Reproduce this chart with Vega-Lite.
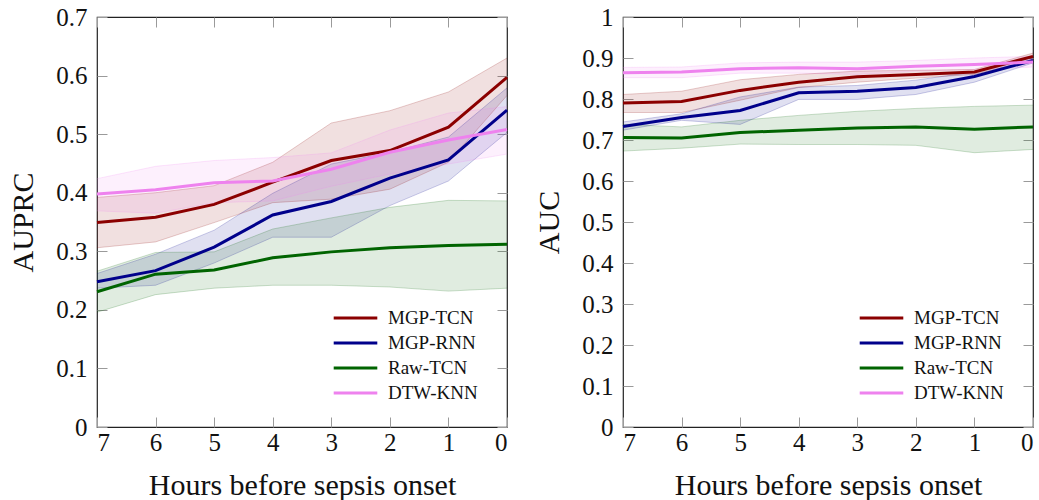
{
  "$schema": "https://vega.github.io/schema/vega-lite/v6.json",
  "padding": {"left": 8, "top": 4, "right": 0, "bottom": 0},
  "spacing": 20,
  "config": {
    "font": "Liberation Serif",
    "view": {"stroke": "#222222", "strokeWidth": 1.2},
    "axis": {
      "grid": false,
      "domain": false,
      "tickColor": "#9a9a9a",
      "tickWidth": 1,
      "tickSize": -10,
      "labelFont": "Liberation Serif",
      "labelFontSize": 25,
      "labelColor": "#111111",
      "titleFont": "Liberation Serif",
      "titleFontSize": 30,
      "titleFontWeight": "normal",
      "titleColor": "#111111"
    },
    "legend": {
      "labelFont": "Liberation Serif",
      "labelFontSize": 19,
      "labelColor": "#111111"
    }
  },
  "resolve": {"legend": {"color": "independent"}, "scale": {"color": "independent"}},
  "datasets": {
    "auprc": [
      {"h": 7, "model": "MGP-TCN", "mean": 0.349, "lo": 0.306, "hi": 0.392},
      {"h": 6, "model": "MGP-TCN", "mean": 0.358, "lo": 0.316, "hi": 0.400},
      {"h": 5, "model": "MGP-TCN", "mean": 0.380, "lo": 0.349, "hi": 0.412},
      {"h": 4, "model": "MGP-TCN", "mean": 0.418, "lo": 0.383, "hi": 0.452},
      {"h": 3, "model": "MGP-TCN", "mean": 0.455, "lo": 0.389, "hi": 0.519},
      {"h": 2, "model": "MGP-TCN", "mean": 0.472, "lo": 0.406, "hi": 0.540},
      {"h": 1, "model": "MGP-TCN", "mean": 0.512, "lo": 0.452, "hi": 0.572},
      {"h": 0, "model": "MGP-TCN", "mean": 0.597, "lo": 0.566, "hi": 0.630},
      {"h": 7, "model": "MGP-RNN", "mean": 0.248, "lo": 0.237, "hi": 0.262},
      {"h": 6, "model": "MGP-RNN", "mean": 0.267, "lo": 0.242, "hi": 0.295},
      {"h": 5, "model": "MGP-RNN", "mean": 0.307, "lo": 0.280, "hi": 0.336},
      {"h": 4, "model": "MGP-RNN", "mean": 0.362, "lo": 0.324, "hi": 0.399},
      {"h": 3, "model": "MGP-RNN", "mean": 0.385, "lo": 0.324, "hi": 0.449},
      {"h": 2, "model": "MGP-RNN", "mean": 0.425, "lo": 0.378, "hi": 0.469},
      {"h": 1, "model": "MGP-RNN", "mean": 0.456, "lo": 0.420, "hi": 0.495},
      {"h": 0, "model": "MGP-RNN", "mean": 0.541, "lo": 0.503, "hi": 0.579},
      {"h": 7, "model": "Raw-TCN", "mean": 0.231, "lo": 0.196, "hi": 0.266},
      {"h": 6, "model": "Raw-TCN", "mean": 0.261, "lo": 0.226, "hi": 0.298},
      {"h": 5, "model": "Raw-TCN", "mean": 0.268, "lo": 0.237, "hi": 0.299},
      {"h": 4, "model": "Raw-TCN", "mean": 0.289, "lo": 0.242, "hi": 0.338},
      {"h": 3, "model": "Raw-TCN", "mean": 0.299, "lo": 0.242, "hi": 0.357},
      {"h": 2, "model": "Raw-TCN", "mean": 0.306, "lo": 0.239, "hi": 0.375},
      {"h": 1, "model": "Raw-TCN", "mean": 0.310, "lo": 0.232, "hi": 0.387},
      {"h": 0, "model": "Raw-TCN", "mean": 0.312, "lo": 0.237, "hi": 0.386},
      {"h": 7, "model": "DTW-KNN", "mean": 0.398, "lo": 0.369, "hi": 0.424},
      {"h": 6, "model": "DTW-KNN", "mean": 0.405, "lo": 0.365, "hi": 0.445},
      {"h": 5, "model": "DTW-KNN", "mean": 0.417, "lo": 0.383, "hi": 0.455},
      {"h": 4, "model": "DTW-KNN", "mean": 0.420, "lo": 0.386, "hi": 0.460},
      {"h": 3, "model": "DTW-KNN", "mean": 0.440, "lo": 0.411, "hi": 0.468},
      {"h": 2, "model": "DTW-KNN", "mean": 0.469, "lo": 0.432, "hi": 0.507},
      {"h": 1, "model": "DTW-KNN", "mean": 0.490, "lo": 0.449, "hi": 0.536},
      {"h": 0, "model": "DTW-KNN", "mean": 0.508, "lo": 0.466, "hi": 0.547}
    ],
    "auc": [
      {"h": 7, "model": "MGP-TCN", "mean": 0.790, "lo": 0.767, "hi": 0.811},
      {"h": 6, "model": "MGP-TCN", "mean": 0.794, "lo": 0.767, "hi": 0.819},
      {"h": 5, "model": "MGP-TCN", "mean": 0.821, "lo": 0.797, "hi": 0.847},
      {"h": 4, "model": "MGP-TCN", "mean": 0.841, "lo": 0.828, "hi": 0.860},
      {"h": 3, "model": "MGP-TCN", "mean": 0.854, "lo": 0.841, "hi": 0.868},
      {"h": 2, "model": "MGP-TCN", "mean": 0.860, "lo": 0.851, "hi": 0.870},
      {"h": 1, "model": "MGP-TCN", "mean": 0.866, "lo": 0.860, "hi": 0.872},
      {"h": 0, "model": "MGP-TCN", "mean": 0.904, "lo": 0.894, "hi": 0.912},
      {"h": 7, "model": "MGP-RNN", "mean": 0.733, "lo": 0.724, "hi": 0.744},
      {"h": 6, "model": "MGP-RNN", "mean": 0.755, "lo": 0.748, "hi": 0.764},
      {"h": 5, "model": "MGP-RNN", "mean": 0.772, "lo": 0.738, "hi": 0.805},
      {"h": 4, "model": "MGP-RNN", "mean": 0.815, "lo": 0.799, "hi": 0.829},
      {"h": 3, "model": "MGP-RNN", "mean": 0.819, "lo": 0.799, "hi": 0.833},
      {"h": 2, "model": "MGP-RNN", "mean": 0.828, "lo": 0.811, "hi": 0.846},
      {"h": 1, "model": "MGP-RNN", "mean": 0.855, "lo": 0.841, "hi": 0.866},
      {"h": 0, "model": "MGP-RNN", "mean": 0.894, "lo": 0.888, "hi": 0.901},
      {"h": 7, "model": "Raw-TCN", "mean": 0.706, "lo": 0.673, "hi": 0.738},
      {"h": 6, "model": "Raw-TCN", "mean": 0.705, "lo": 0.680, "hi": 0.732},
      {"h": 5, "model": "Raw-TCN", "mean": 0.718, "lo": 0.690, "hi": 0.748},
      {"h": 4, "model": "Raw-TCN", "mean": 0.724, "lo": 0.689, "hi": 0.760},
      {"h": 3, "model": "Raw-TCN", "mean": 0.729, "lo": 0.689, "hi": 0.770},
      {"h": 2, "model": "Raw-TCN", "mean": 0.732, "lo": 0.687, "hi": 0.777},
      {"h": 1, "model": "Raw-TCN", "mean": 0.726, "lo": 0.669, "hi": 0.782},
      {"h": 0, "model": "Raw-TCN", "mean": 0.732, "lo": 0.677, "hi": 0.785},
      {"h": 7, "model": "DTW-KNN", "mean": 0.864, "lo": 0.852, "hi": 0.877},
      {"h": 6, "model": "DTW-KNN", "mean": 0.866, "lo": 0.852, "hi": 0.878},
      {"h": 5, "model": "DTW-KNN", "mean": 0.874, "lo": 0.863, "hi": 0.888},
      {"h": 4, "model": "DTW-KNN", "mean": 0.876, "lo": 0.863, "hi": 0.890},
      {"h": 3, "model": "DTW-KNN", "mean": 0.874, "lo": 0.860, "hi": 0.890},
      {"h": 2, "model": "DTW-KNN", "mean": 0.880, "lo": 0.868, "hi": 0.894},
      {"h": 1, "model": "DTW-KNN", "mean": 0.884, "lo": 0.872, "hi": 0.900},
      {"h": 0, "model": "DTW-KNN", "mean": 0.890, "lo": 0.878, "hi": 0.904}
    ]
  },
  "hconcat": [
    {
      "width": 410,
      "height": 410,
      "data": {"name": "auprc"},
      "encoding": {
        "color": {
          "field": "model", "type": "nominal",
          "scale": {"domain": ["MGP-TCN", "MGP-RNN", "Raw-TCN", "DTW-KNN"], "range": ["#8b0000", "#00008b", "#006400", "#ee82ee"]},
          "legend": {
            "title": null, "orient": "none", "legendX": 235, "legendY": 291,
            "symbolType": "stroke", "symbolSize": 1900, "symbolStrokeWidth": 3, "symbolOpacity": 1,
            "clipHeight": 20, "rowPadding": 5, "labelOffset": 9
          }
        }
      },
      "layer": [
        {
          "mark": {"type": "area", "fillOpacity": 0.12},
          "encoding": {
            "x": {"field": "h", "type": "quantitative", "scale": {"domain": [0, 7], "reverse": true, "nice": false},
                  "axis": {"orient": "bottom", "values": [7, 6, 5, 4, 3, 2, 1, 0], "format": "d", "labelPadding": 13, "titlePadding": 15, "title": "Hours before sepsis onset"}},
            "y": {"field": "lo", "type": "quantitative", "scale": {"domain": [0, 0.7], "nice": false, "zero": false},
                  "axis": {"orient": "left", "values": [0, 0.1, 0.2, 0.3, 0.4, 0.5, 0.6, 0.7], "format": ".1~f", "labelPadding": 20, "titlePadding": 17, "title": "AUPRC"}},
            "y2": {"field": "hi"}
          }
        },
        {
          "mark": {"type": "line", "strokeWidth": 0.8, "opacity": 0.25},
          "encoding": {
            "x": {"field": "h", "type": "quantitative", "axis": {"orient": "top", "values": [7, 6, 5, 4, 3, 2, 1, 0], "labels": false, "title": null}},
            "y": {"field": "lo", "type": "quantitative", "axis": {"orient": "right", "values": [0, 0.1, 0.2, 0.3, 0.4, 0.5, 0.6, 0.7], "labels": false, "title": null}}
          }
        },
        {
          "mark": {"type": "line", "strokeWidth": 0.8, "opacity": 0.25},
          "encoding": {
            "x": {"field": "h", "type": "quantitative", "axis": null},
            "y": {"field": "hi", "type": "quantitative", "axis": null}
          }
        },
        {
          "mark": {"type": "line", "strokeWidth": 3},
          "encoding": {
            "x": {"field": "h", "type": "quantitative", "axis": null},
            "y": {"field": "mean", "type": "quantitative", "axis": null}
          }
        }
      ],
      "resolve": {"axis": {"x": "independent", "y": "independent"}}
    },
    {
      "width": 410,
      "height": 410,
      "data": {"name": "auc"},
      "encoding": {
        "color": {
          "field": "model", "type": "nominal",
          "scale": {"domain": ["MGP-TCN", "MGP-RNN", "Raw-TCN", "DTW-KNN"], "range": ["#8b0000", "#00008b", "#006400", "#ee82ee"]},
          "legend": {
            "title": null, "orient": "none", "legendX": 235, "legendY": 291,
            "symbolType": "stroke", "symbolSize": 1900, "symbolStrokeWidth": 3, "symbolOpacity": 1,
            "clipHeight": 20, "rowPadding": 5, "labelOffset": 9
          }
        }
      },
      "layer": [
        {
          "mark": {"type": "area", "fillOpacity": 0.12},
          "encoding": {
            "x": {"field": "h", "type": "quantitative", "scale": {"domain": [0, 7], "reverse": true, "nice": false},
                  "axis": {"orient": "bottom", "values": [7, 6, 5, 4, 3, 2, 1, 0], "format": "d", "labelPadding": 13, "titlePadding": 15, "title": "Hours before sepsis onset"}},
            "y": {"field": "lo", "type": "quantitative", "scale": {"domain": [0, 1], "nice": false, "zero": false},
                  "axis": {"orient": "left", "values": [0, 0.1, 0.2, 0.3, 0.4, 0.5, 0.6, 0.7, 0.8, 0.9, 1], "format": ".1~f", "labelPadding": 20, "titlePadding": 17, "title": "AUC"}},
            "y2": {"field": "hi"}
          }
        },
        {
          "mark": {"type": "line", "strokeWidth": 0.8, "opacity": 0.25},
          "encoding": {
            "x": {"field": "h", "type": "quantitative", "axis": {"orient": "top", "values": [7, 6, 5, 4, 3, 2, 1, 0], "labels": false, "title": null}},
            "y": {"field": "lo", "type": "quantitative", "axis": {"orient": "right", "values": [0, 0.1, 0.2, 0.3, 0.4, 0.5, 0.6, 0.7, 0.8, 0.9, 1], "labels": false, "title": null}}
          }
        },
        {
          "mark": {"type": "line", "strokeWidth": 0.8, "opacity": 0.25},
          "encoding": {
            "x": {"field": "h", "type": "quantitative", "axis": null},
            "y": {"field": "hi", "type": "quantitative", "axis": null}
          }
        },
        {
          "mark": {"type": "line", "strokeWidth": 3},
          "encoding": {
            "x": {"field": "h", "type": "quantitative", "axis": null},
            "y": {"field": "mean", "type": "quantitative", "axis": null}
          }
        }
      ],
      "resolve": {"axis": {"x": "independent", "y": "independent"}}
    }
  ]
}
